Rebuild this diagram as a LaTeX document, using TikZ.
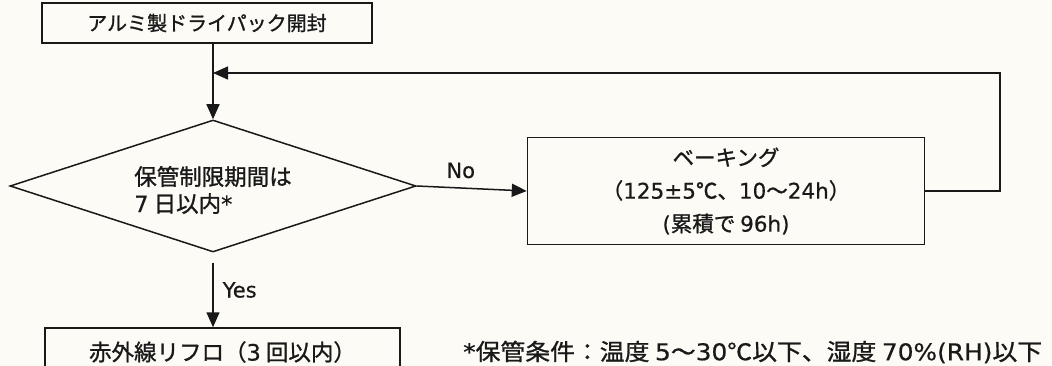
\documentclass[tikz,border=0pt]{standalone}
\usepackage{fontspec}
\setmainfont{Noto Sans CJK JP}[FakeBold=1.1]
\newfontfamily\latf{DejaVu Sans}[FakeBold=0.5]
\newcommand{\lt}[1]{{\latf #1}}
\usetikzlibrary{arrows.meta,shapes.geometric}
\definecolor{bg}{RGB}{252,251,246}
\definecolor{ink}{RGB}{25,25,25}
\tikzset{
  box/.style={draw=ink, line width=1.5pt, rectangle, inner sep=0pt, text=ink},
  arr/.style={draw=ink, line width=1.5pt, -{Triangle[length=15pt,width=13pt]}},
  lbl/.style={text=ink, inner sep=0pt},
}
\begin{document}
\begin{tikzpicture}[x=1pt,y=-1pt,font=\fontsize{21}{26}\selectfont]
\clip (0,0) rectangle (1052,366);
\fill[bg] (0,0) rectangle (1052,366);
\node[box, minimum width=330pt, minimum height=40pt, font=\fontsize{20}{26}\selectfont] (top) at (207,23) {アルミ製ドライパック開封};
\node[box, diamond, minimum width=406pt, minimum height=132pt] (dec) at (213,186) {};
\node[lbl, align=left, font=\fontsize{22.5}{27}\selectfont] (dectext) at (213,190) {保管制限期間は\\\lt{7} 日以内\lt{*}};
\node[box, minimum width=397pt, minimum height=107pt, align=center, font=\fontsize{21.5}{33}\selectfont] (bake) at (726,191) {ベーキング\\（\lt{125±5}℃、\lt{10}～\lt{24h}）\\\lt{(}累積で \lt{96h)}};
\node[box, minimum width=355pt, minimum height=48pt, font=\fontsize{22.5}{26}\selectfont] (bot) at (222.5,352) {赤外線リフロ（\lt{3} 回以内）};
\node[lbl, anchor=west, font=\fontsize{23}{26}\selectfont] (note) at (463,352) {\scalebox{1.08}[1]{\lt{*}保管条件：温度 \lt{5}～\lt{30}℃以下、湿度 \lt{70\%(RH)}以下}};
\coordinate (join) at (213,73);
\coordinate (loopx) at (1000,0);
\draw[arr] (top.south -| dec.north) -- (dec.north);
\draw[arr] (bake.east) -- (bake.east -| loopx) |- (join);
\draw[arr] (dec.east) -- node[lbl, above=9pt, pos=0.4, font=\latf\fontsize{21}{24}\selectfont] (no) {No} (bake.west);
\draw[arr, shorten <=10pt] (dec.south) -- node[lbl, right=9pt, font=\latf\fontsize{21}{24}\selectfont] (yes) {Yes} (dec.south |- bot.north);
\end{tikzpicture}
\end{document}
